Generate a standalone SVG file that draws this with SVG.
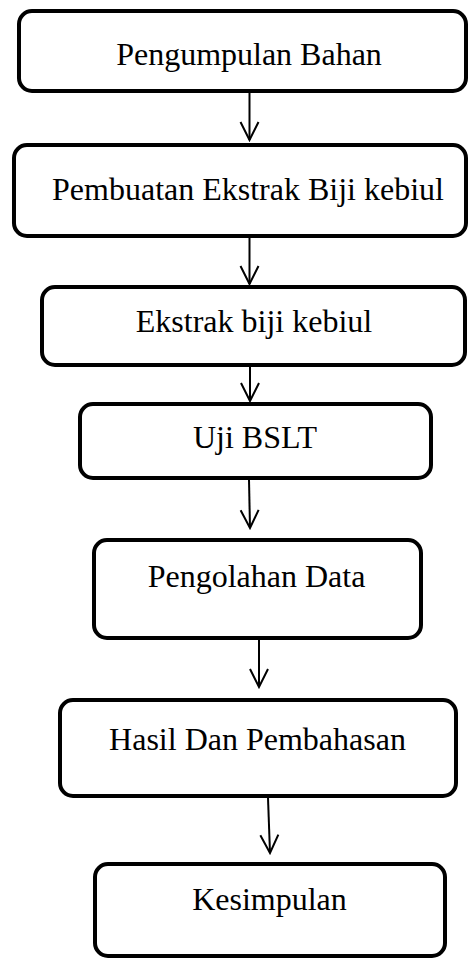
<svg xmlns="http://www.w3.org/2000/svg" width="469" height="958" viewBox="0 0 469 958">
<style>
.box{fill:#fff;stroke:#000;stroke-width:4}
.lbl{font-family:"Liberation Serif","Times New Roman",serif;font-size:32px;fill:#000;text-anchor:middle}
.conn{stroke:#000;stroke-width:2;fill:none}
</style>
<defs>
<marker id="arr" markerUnits="userSpaceOnUse" viewBox="-20 -11 22 22" refX="0" refY="0" markerWidth="22" markerHeight="22" orient="auto">
<path d="M-18,-9 L0,0 L-18,9" fill="none" stroke="#000" stroke-width="2"/>
</marker>
</defs>
<rect width="469" height="958" fill="#fff"/>
<g id="connectors">
<line class="conn" x1="249.5" y1="93" x2="249.5" y2="140" marker-end="url(#arr)"/>
<line class="conn" x1="249.5" y1="238" x2="249.5" y2="284" marker-end="url(#arr)"/>
<line class="conn" x1="250" y1="367" x2="250" y2="401" marker-end="url(#arr)"/>
<line class="conn" x1="249" y1="480" x2="250" y2="528" marker-end="url(#arr)"/>
<line class="conn" x1="259" y1="640" x2="259" y2="687" marker-end="url(#arr)"/>
<line class="conn" x1="268" y1="798" x2="270" y2="853" marker-end="url(#arr)"/>
</g>
<g id="n1"><rect class="box" x="19" y="11" width="447" height="80" rx="13"/><text class="lbl" x="249" y="65">Pengumpulan Bahan</text></g>
<g id="n2"><rect class="box" x="14" y="145" width="452" height="91" rx="13"/><text class="lbl" x="248" y="200">Pembuatan Ekstrak Biji kebiul</text></g>
<g id="n3"><rect class="box" x="42" y="287" width="423" height="78" rx="13"/><text class="lbl" x="254" y="332">Ekstrak biji kebiul</text></g>
<g id="n4"><rect class="box" x="80" y="404" width="351" height="74" rx="13"/><text class="lbl" x="255" y="448">Uji BSLT</text></g>
<g id="n5"><rect class="box" x="94" y="540" width="327" height="98" rx="13"/><text class="lbl" x="256.5" y="587">Pengolahan Data</text></g>
<g id="n6"><rect class="box" x="60" y="700" width="396" height="96" rx="13"/><text class="lbl" x="257.5" y="750">Hasil Dan Pembahasan</text></g>
<g id="n7"><rect class="box" x="95" y="864" width="350" height="92" rx="13"/><text class="lbl" x="269.5" y="910">Kesimpulan</text></g>
</svg>
